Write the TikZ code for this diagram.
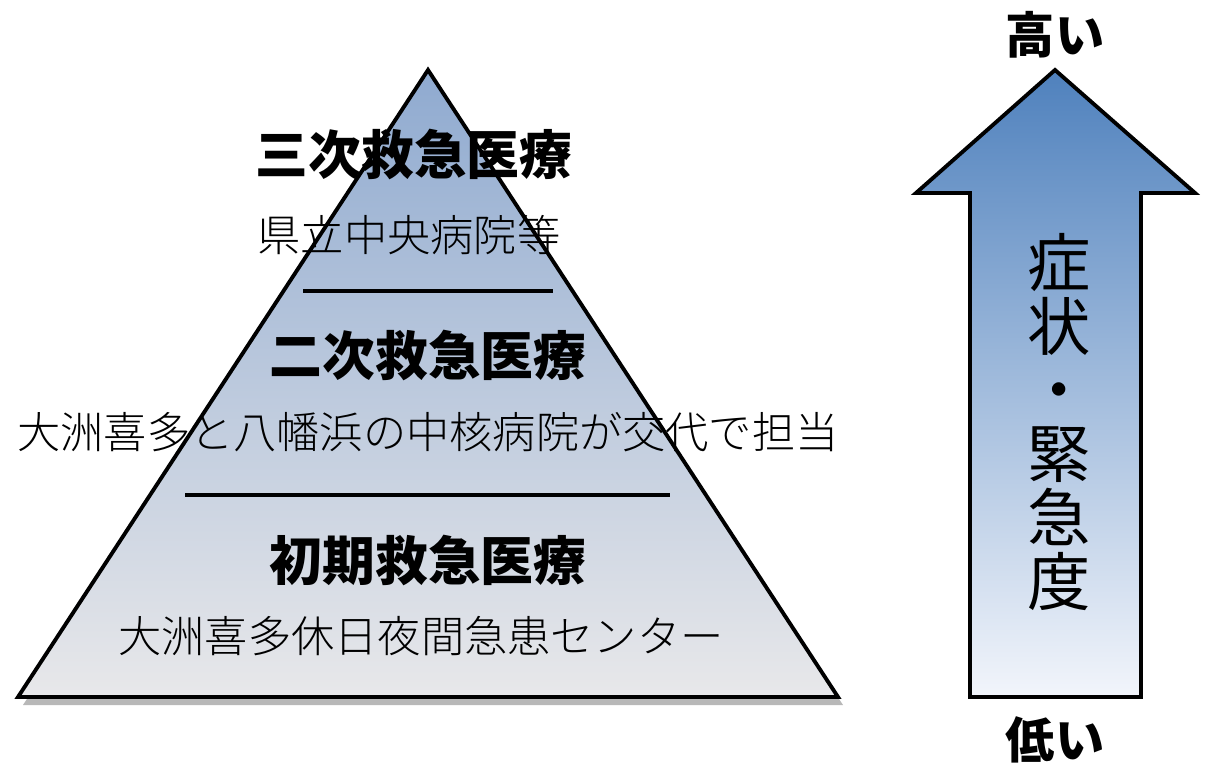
\documentclass[tikz,border=0pt]{standalone}
\usepackage{fontspec}
\setmainfont{Noto Sans CJK JP}
\newfontfamily\lightjp{Noto Sans CJK JP Light}
\newfontfamily\blackjp{Noto Sans CJK JP Black}
\usetikzlibrary{calc}

\definecolor{pyrtop}{RGB}{143,170,208}
\definecolor{pyrbot}{RGB}{232,232,234}
\definecolor{arrtop}{RGB}{79,129,189}
\definecolor{arrbot}{RGB}{242,245,251}

\begin{document}
\begin{tikzpicture}[x=0.1mm,y=-0.1mm,line width=1.1pt,
  head/.style={font=\blackjp\fontsize{15}{15}\selectfont},
  sub/.style={font=\lightjp\fontsize{12.3}{12.3}\selectfont},
  side/.style={font=\blackjp\fontsize{14}{14}\selectfont}]
  \useasboundingbox (0,0) rectangle (1215,768);
  \coordinate (T) at (428,70);
  \coordinate (L) at (18,697);
  \coordinate (R) at (838,697);
  % --- piramide ---
  \fill[black!28] ($(T)+(5,8)$) -- ($(L)+(5,8)$) -- ($(R)+(5,8)$) -- cycle;
  \shade[top color=pyrtop,bottom color=pyrbot,draw=black] (T) -- (L) -- (R) -- cycle;
  \draw[line width=0.9pt] (303,291) coordinate (d1a) -- (553,291) coordinate (d1b);
  \draw[line width=0.9pt] (185,495) coordinate (d2a) -- (670,495) coordinate (d2b);
  \node[head] (h3) at (414,155) {三次救急医療};
  \node[sub]  (s3) at (409,235) {県立中央病院等};
  \node[head] (h2) at (428,355) {二次救急医療};
  \node[sub]  (s2) at (428,432) {大洲喜多と八幡浜の中核病院が交代で担当};
  \node[head] (h1) at (428,560) {初期救急医療};
  \node[sub]  (s1) at (421,636) {大洲喜多休日夜間急患センター};
  % --- flecha ---
  \shade[top color=arrtop,bottom color=arrbot,draw=black,line join=miter]
    (1055,70) -- (1195,193) -- (1141,193) -- (1141,697) -- (970,697)
    -- (970,193) -- (916,193) -- cycle;
  \node[font=\fontsize{18}{18.2}\selectfont,align=center] (lvl) at (1059,422)
    {症\\状\\・\\緊\\急\\度};
  \node[side] (hi) at (1055,35) {高い};
  \node[side] (lo) at (1055,740) {低い};
\end{tikzpicture}
\end{document}
